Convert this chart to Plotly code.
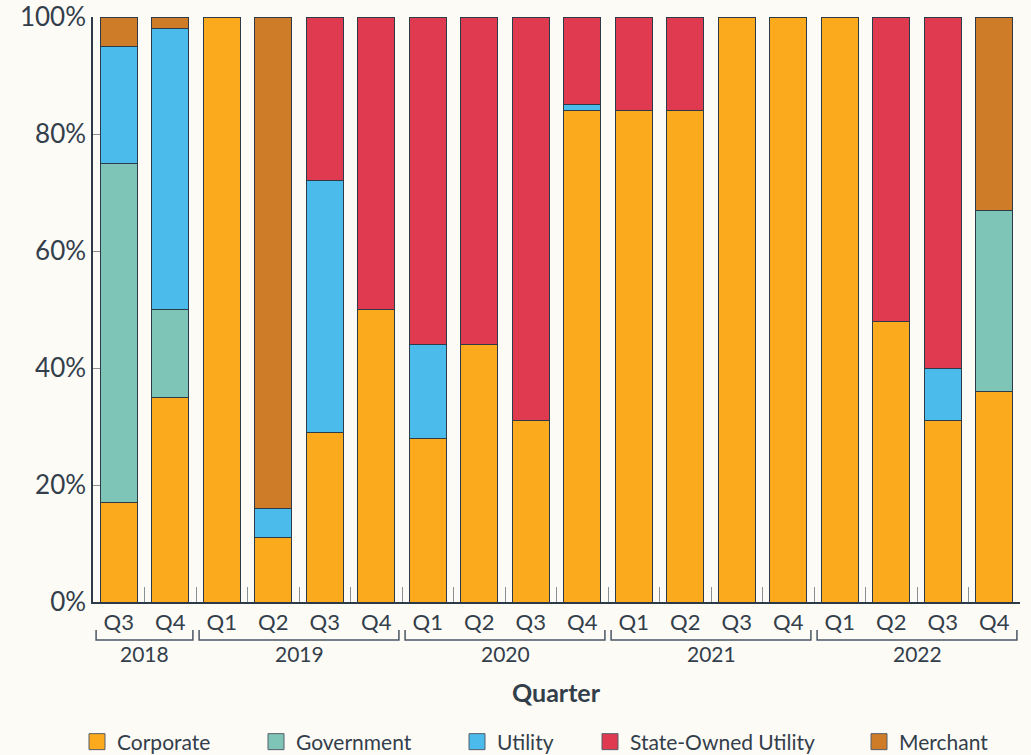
import plotly.graph_objects as go

years = ["2018", "2018", "2019", "2019", "2019", "2019", "2020", "2020", "2020", "2020",
         "2021", "2021", "2021", "2021", "2022", "2022", "2022", "2022"]
quarters = ["Q3", "Q4", "Q1", "Q2", "Q3", "Q4", "Q1", "Q2", "Q3", "Q4",
            "Q1", "Q2", "Q3", "Q4", "Q1", "Q2", "Q3", "Q4"]

corporate = [17, 35, 100, 11, 29, 50, 28, 44, 31, 84, 84, 84, 100, 100, 100, 48, 31, 36]
government = [58, 15, 0, 0, 0, 0, 0, 0, 0, 0, 0, 0, 0, 0, 0, 0, 0, 31]
utility = [20, 48, 0, 5, 43, 0, 16, 0, 0, 1, 0, 0, 0, 0, 0, 0, 9, 0]
state_owned = [0, 0, 0, 0, 28, 50, 56, 56, 69, 15, 16, 16, 0, 0, 0, 52, 60, 0]
merchant = [5, 2, 0, 84, 0, 0, 0, 0, 0, 0, 0, 0, 0, 0, 0, 0, 0, 33]

series = [
    ("Corporate", corporate, "#FBAA1E"),
    ("Government", government, "#7EC5B7"),
    ("Utility", utility, "#4ABBEA"),
    ("State-Owned Utility", state_owned, "#E03A51"),
    ("Merchant", merchant, "#CF7C28"),
]

TEXT = "#333e4b"
BG = "#fdfbf6"
EDGE = "#2d3a48"
FONT = "Lato"

W, H = 1031, 755
ML, MR, MT, MB = 93, 11, 17, 153
PW = W - ML - MR
PH = H - MT - MB

# legend text start pixel positions (layout)
legend_text_px = [117, 296, 497, 630, 899]

ids = [f"{y}-{q}" for y, q in zip(years, quarters)]

fig = go.Figure()
legend_layouts = {}
for k, (name, vals, color) in enumerate(series):
    lname = "legend" if k == 0 else f"legend{k + 1}"
    fig.add_trace(go.Bar(
        x=ids, y=vals, name=name, showlegend=False,
        marker=dict(color=color, line=dict(color=EDGE, width=1)),
    ))
    # legend swatch
    fig.add_trace(go.Scatter(
        x=[None], y=[None], name=name, legend=lname, mode="markers",
        marker=dict(symbol="square", size=22, color=color, line=dict(color="#555f6b", width=1)),
    ))
    legend_layouts[lname] = dict(
        x=(legend_text_px[k] - 40 - ML) / PW, xanchor="left",
        y=(0 - 140) / PH, yanchor="middle",
        orientation="h", bgcolor="rgba(0,0,0,0)", itemsizing="trace",
        font=dict(size=21, color=TEXT, family=FONT),
    )

# year group brackets and labels
groups = []
for i, y in enumerate(years):
    if groups and groups[-1][0] == y:
        groups[-1][2] = i
    else:
        groups.append([y, i, i])

for y, a, b in groups:
    x0, x1 = a - 0.44, b + 0.44
    fig.add_shape(type="path", xref="x", yref="paper",
                  path=f"M {x0},{-28 / PH} L {x0},{-38 / PH} L {x1},{-38 / PH} L {x1},{-28 / PH}",
                  line=dict(color="#4a5563", width=1.5))
    fig.add_annotation(x=(a + b) / 2, y=-51 / PH, xref="x", yref="paper",
                       text=y, showarrow=False, yanchor="middle",
                       font=dict(size=21, color=TEXT, family=FONT))

fig.add_annotation(x=0.5, y=-90 / PH, xref="paper", yref="paper", text="<b>Quarter</b>",
                   showarrow=False, yanchor="middle",
                   font=dict(size=25, color=TEXT, family=FONT))

fig.update_layout(
    width=W, height=H,
    barmode="stack", bargap=0.28,
    paper_bgcolor=BG, plot_bgcolor=BG,
    margin=dict(l=ML, r=MR, t=MT, b=MB, autoexpand=False),
    font=dict(family=FONT, color=TEXT, size=20),
    showlegend=True,
    **legend_layouts,
)
fig.update_xaxes(
    type="category", tickmode="array", tickvals=ids, ticktext=quarters,
    showline=True, linecolor=EDGE, linewidth=1.5,
    ticks="inside", tickson="boundaries", ticklen=15, tickcolor="#8a8f96",
    tickfont=dict(size=22, color=TEXT), ticklabelstandoff=0,
    showgrid=False, range=[-0.5, len(ids) - 0.5],
)
fig.update_yaxes(
    range=[0, 100], dtick=20, ticksuffix="%",
    showline=True, linecolor=EDGE, linewidth=1.5,
    ticks="inside", ticklen=7, tickcolor="#8a8f96",
    tickfont=dict(size=26, color=TEXT), showgrid=False, zeroline=False,
)

fig.write_html(
    "out.html",
    config={"displayModeBar": False},
    post_script="document.body.style.margin='0';document.body.style.background='" + BG + "';",
)
